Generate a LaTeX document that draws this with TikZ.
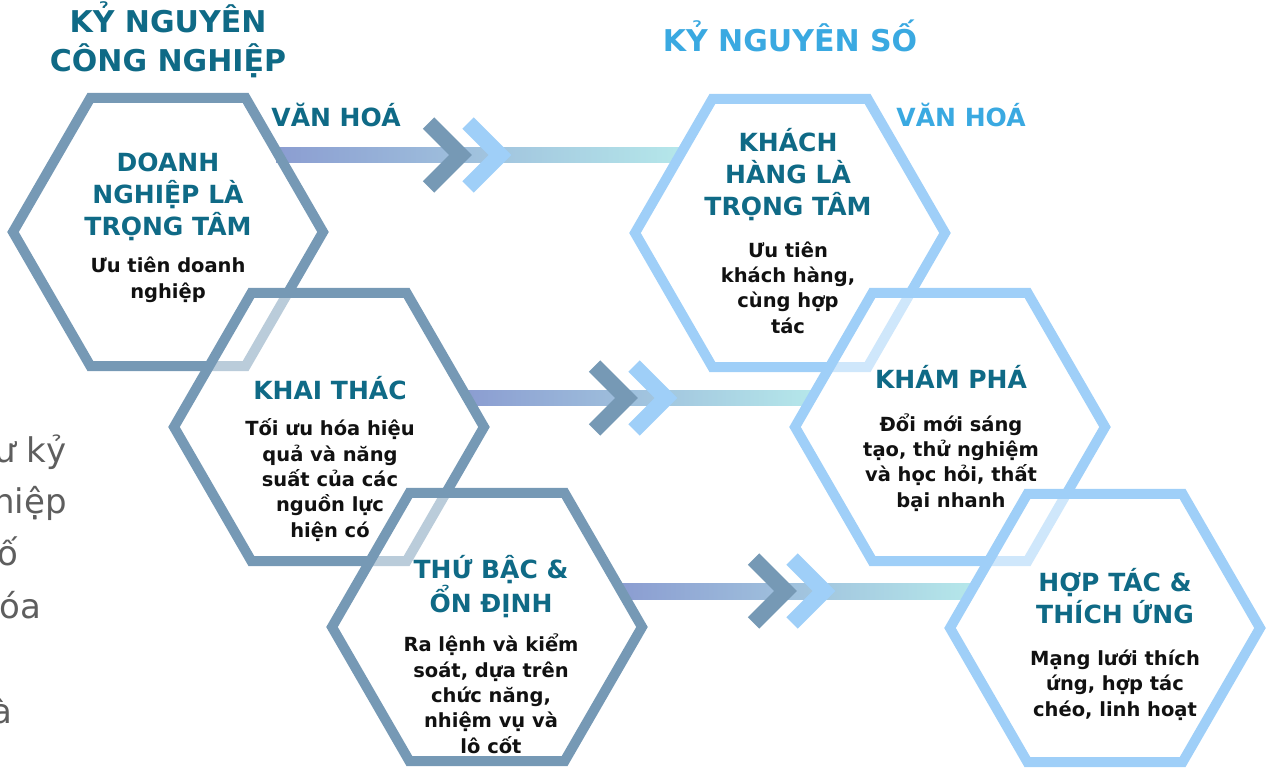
\documentclass[tikz,border=0pt]{standalone}
\usepackage{fontspec}
\setmainfont{DejaVu Sans}
\usetikzlibrary{shapes.geometric,calc,backgrounds}

\definecolor{oldhex}{HTML}{7699B5}
\definecolor{newhex}{HTML}{9FCFF8}
\definecolor{headteal}{HTML}{0F6A86}
\definecolor{skyhead}{HTML}{3AA9E1}
\definecolor{barleft}{HTML}{8B9DD1}
\definecolor{barright}{HTML}{B5E7EA}
\definecolor{greytext}{HTML}{5E5E5E}
\definecolor{bodyink}{HTML}{111111}

\begin{document}
\begin{tikzpicture}[x=0.75pt,y=-0.75pt,
  hexbase/.style={regular polygon, regular polygon sides=6, minimum size=232.5pt,
    inner sep=0pt, outer sep=0pt, line width=7.5pt, line join=miter},
  oldera/.style={hexbase, draw=oldhex},
  newera/.style={hexbase, draw=newhex},
  veil/.style={fill=white, fill opacity=0.5, draw opacity=1},
  % multi-line nodes below are placed by the baseline of their last line
  eraname/.style={font=\fontsize{22.5pt}{29.25pt}\selectfont\bfseries, align=center, anchor=base, inner sep=0pt},
  culture/.style={font=\fontsize{18.75pt}{22pt}\selectfont\bfseries, anchor=base, inner sep=0pt},
  hextitle/.style={font=\fontsize{18.75pt}{24pt}\selectfont\bfseries, text=headteal, align=center, anchor=base, inner sep=0pt},
  hexbody/.style={font=\fontsize{14.6pt}{19pt}\selectfont\bfseries, text=bodyink, align=center, anchor=base, inner sep=0pt},
  sidetext/.style={font=\fontsize{25.5pt}{30pt}\selectfont, text=greytext, anchor=base west, inner sep=0pt},
  flow/.style={left color=barleft, right color=barright},
  chevron/.style={line width=12pt, line join=miter, line cap=butt},
]
\useasboundingbox (0,0) rectangle (1270,770);
\clip (0,0) rectangle (1270,770);

% side paragraph running off the left edge
\node[sidetext] (s1) at (-6,462) {ư kỷ};
\node[sidetext] (s2) at (-7,513) {hiệp};
\node[sidetext] (s3) at (-3,565) {ố};
\node[sidetext] (s4) at (-1,618) {óa};
\node[sidetext] (s5) at (-9,723) {à};

% column headings
\node[eraname, text=headteal] (eraold) at (168,72) {KỶ NGUYÊN\\CÔNG NGHIỆP};
\node[eraname, text=skyhead] (eranew) at (790,52) {KỶ NGUYÊN SỐ};
\node[culture, text=headteal] (cultold) at (336,127) {VĂN HOÁ};
\node[culture, text=skyhead] (cultnew) at (961,127) {VĂN HOÁ};

% industrial-era hexagons
\node[oldera] (h1) at (168,232) {};
\node[oldera, veil] (h2) at (329,427) {};
\node[oldera, veil] (h3) at (487,627) {};
% digital-era hexagons
\node[newera] (h4) at (790,233) {};
\node[newera, veil] (h5) at (950,427) {};
\node[newera, veil] (h6) at (1105,628) {};

% transition bars with double chevrons
\begin{scope}[on background layer]
  \shade[flow] ($(h1.center)+(108,-84.5)$) rectangle ($(h4.center)+(-109,-70.5)$);
  \shade[flow] ($(h2.center)+(138,-36.5)$) rectangle ($(h5.center)+(-138,-21.5)$);
  \shade[flow] ($(h3.center)+(134,-43.5)$) rectangle ($(h6.center)+(-134,-28.5)$);

  \draw[chevron, oldhex] (428.5,123) -- (460.5,155) -- (428.5,187);
  \draw[chevron, newhex] (468,123) -- (500,155) -- (468,187);
  \draw[chevron, oldhex] (594.5,366) -- (626.5,398) -- (594.5,430);
  \draw[chevron, newhex] (634,366) -- (666,398) -- (634,430);
  \draw[chevron, oldhex] (753.5,559) -- (785.5,591) -- (753.5,623);
  \draw[chevron, newhex] (792,559) -- (824,591) -- (792,623);
\end{scope}

% hexagon texts
\node[hextitle] (t1) at (168,235) {DOANH\\NGHIỆP LÀ\\TRỌNG TÂM};
\node[hexbody] (b1) at (168,298) {Ưu tiên doanh\\nghiệp};

\node[hextitle] (t2) at (330,399) {KHAI THÁC};
\node[hexbody] (b2) at (330,537) {Tối ưu hóa hiệu\\quả và năng\\suất của các\\nguồn lực\\hiện có};

\node[hextitle] (t3) at (491,612) {THỨ BẬC \&\\ỔN ĐỊNH};
\node[hexbody] (b3) at (491,753) {Ra lệnh và kiểm\\soát, dựa trên\\chức năng,\\nhiệm vụ và\\lô cốt};

\node[hextitle] (t4) at (788,215) {KHÁCH\\HÀNG LÀ\\TRỌNG TÂM};
\node[hexbody] (b4) at (788,333) {Ưu tiên\\khách hàng,\\cùng hợp\\tác};

\node[hextitle] (t5) at (951,388) {KHÁM PHÁ};
\node[hexbody] (b5) at (951,507) {Đổi mới sáng\\tạo, thử nghiệm\\và học hỏi, thất\\bại nhanh};

\node[hextitle] (t6) at (1115,623) {HỢP TÁC \&\\THÍCH ỨNG};
\node[hexbody] (b6) at (1115,716) {Mạng lưới thích\\ứng, hợp tác\\chéo, linh hoạt};
\end{tikzpicture}
\end{document}
